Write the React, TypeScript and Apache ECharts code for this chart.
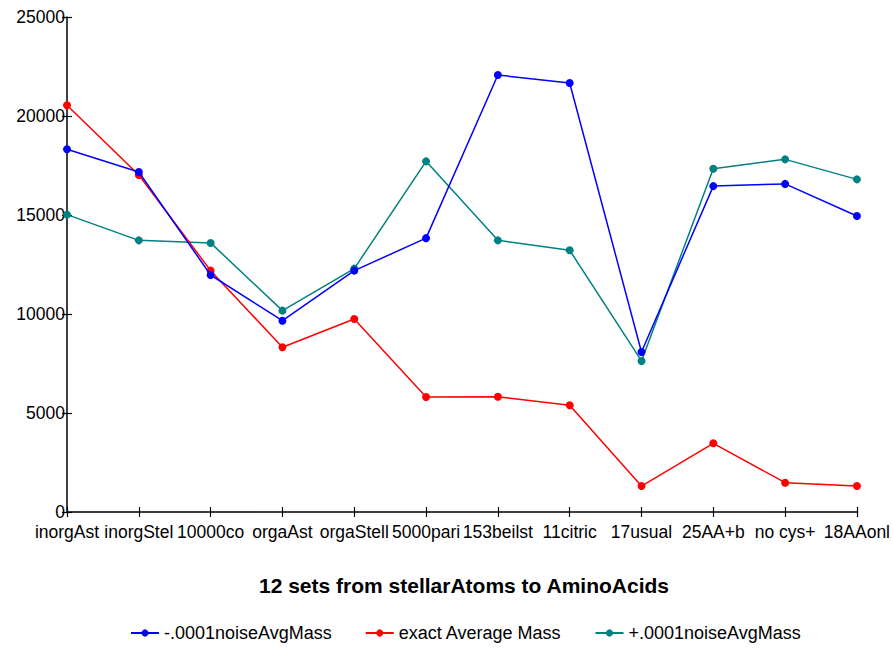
import React, { useEffect, useRef } from "react";
import * as echarts from "echarts";

const categories = ["inorgAst", "inorgStel", "10000co", "orgaAst", "orgaStell", "5000pari", "153beilst", "11citric", "17usual", "25AA+b", "no cys+", "18AAonl"];
const minusNoise = [18320, 17170, 11970, 9660, 12190, 13830, 22070, 21670, 8080, 16460, 16570, 14950];
const exactMass = [20540, 17020, 12190, 8320, 9750, 5810, 5820, 5390, 1310, 3470, 1480, 1310];
const plusNoise = [15020, 13720, 13590, 10170, 12290, 17710, 13720, 13220, 7630, 17340, 17810, 16800];
const seriesNames = ["-.0001noiseAvgMass", "exact Average Mass", "+.0001noiseAvgMass"];
const titleText = "12 sets from stellarAtoms to AminoAcids";

const FONT = "'Liberation Sans Narrow', 'Arial Narrow', 'Liberation Sans', Arial, sans-serif";

export default function App() {
  const ref = useRef<HTMLDivElement>(null);
  useEffect(() => {
    if (!ref.current) return;
    const chart = echarts.init(ref.current, undefined, { renderer: "svg" });
    const colors = ["#0000ff", "#ff0000", "#008080"];
    const data = [minusNoise, exactMass, plusNoise];
    chart.setOption({
      animation: false,
      backgroundColor: "#ffffff",
      color: colors,
      title: {
        text: titleText,
        left: 254,
        top: 570,
        textStyle: { fontFamily: FONT, fontSize: 21, fontWeight: "bold", color: "#000" },
      },
      legend: {
        bottom: 4,
        left: 125,
        itemGap: 33,
        itemWidth: 28,
        itemHeight: 9,
        textStyle: { fontFamily: FONT, fontSize: 18, color: "#000" },
        data: seriesNames,
      },
      grid: { left: 67, right: 35, top: 17, bottom: 139, containLabel: false },
      xAxis: [
        {
          type: "category",
          data: categories,
          boundaryGap: false,
          axisLine: { lineStyle: { color: "#000", width: 1.5 } },
          axisTick: { show: true, length: 5, alignWithLabel: true, lineStyle: { color: "#000", width: 1.2 } },
          axisLabel: { interval: 0, margin: 11, lineHeight: 18, fontFamily: FONT, fontSize: 17.5, color: "#000" },
          splitLine: { show: false },
        },
        {
          type: "category",
          data: categories,
          boundaryGap: false,
          position: "bottom",
          axisLine: { show: false },
          axisTick: { show: true, inside: true, length: 5, lineStyle: { color: "#000", width: 1.2 } },
          axisLabel: { show: false },
          splitLine: { show: false },
        },
      ],
      yAxis: [
        {
          type: "value",
          min: 0,
          max: 25000,
          interval: 5000,
          axisLine: { show: true, lineStyle: { color: "#000", width: 1.5 } },
          axisTick: { show: true, length: 5, lineStyle: { color: "#000", width: 1.2 } },
          axisLabel: { margin: 2, lineHeight: 15, fontFamily: FONT, fontSize: 17.5, color: "#000", formatter: (v: number) => String(v) },
          splitLine: { show: false },
        },
        {
          type: "value",
          min: 0,
          max: 25000,
          interval: 5000,
          position: "left",
          axisLine: { show: false },
          axisTick: { show: true, inside: true, length: 5, lineStyle: { color: "#000", width: 1.2 } },
          axisLabel: { show: false },
          splitLine: { show: false },
        },
      ],
      series: seriesNames.map((name, i) => ({
        name,
        type: "line",
        data: data[i],
        symbol: "circle",
        symbolSize: 8,
        lineStyle: { width: 1.5, color: colors[i] },
        itemStyle: { color: colors[i] },
        z: i === 1 ? 3 : i === 0 ? 4 : 2,
      })),
    });
    return () => chart.dispose();
  }, []);
  return <div ref={ref} style={{ width: 893, height: 651, position: "absolute", left: 0, top: 0 }} />;
}
